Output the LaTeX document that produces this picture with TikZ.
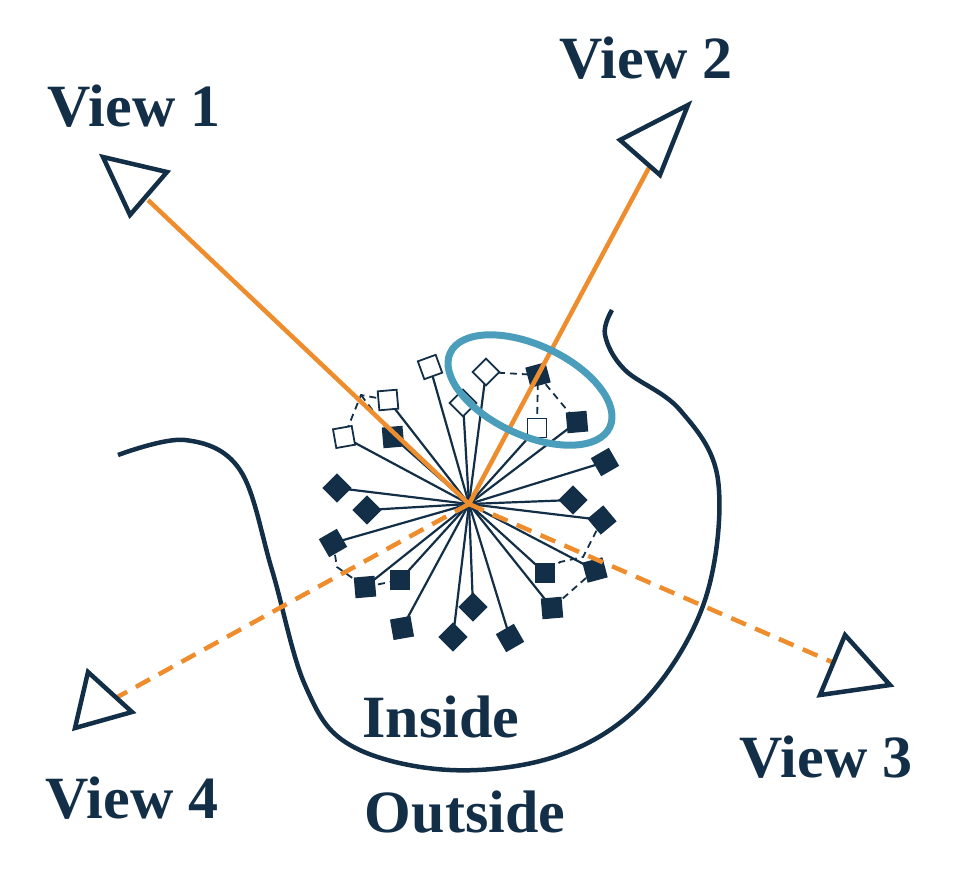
\documentclass[tikz,border=0pt]{standalone}
\usepackage{fontspec}
\setmainfont{Liberation Serif}
\definecolor{navy}{HTML}{132F47}
\definecolor{org}{HTML}{EE8D2E}
\definecolor{sky}{HTML}{4A9DBB}
\begin{document}
\begin{tikzpicture}[x=1pt,y=-1pt,
  fs/.style={draw=navy,fill=navy,minimum size=19pt,inner sep=0pt,line width=1.8pt},
  os/.style={draw=navy,fill=white,minimum size=19pt,inner sep=0pt,line width=1.8pt},
  spoke/.style={navy,line width=2.2pt},
  dl/.style={navy,line width=1.8pt,dash pattern=on 7pt off 5pt},
  tri/.style={draw=navy,line width=4.5pt,line join=miter,fill=white},
  lab/.style={font=\bfseries\fontsize{60}{60}\selectfont,text=navy}]
\useasboundingbox (0,0) rectangle (979,887);
\coordinate (c) at (469,504);
\draw[navy,line width=4.5pt] plot[smooth,tension=0.6] coordinates {(118,455) (185,440) (240,470) (272,570) (305,685) (350,745) (450,770) (560,755) (645,700) (705,600) (718,480) (680,410) (625,370) (605,335) (612,310)};
\foreach \n/\x/\y/\r/\s in {
 a/430/367/20/os, b/388/400/5/os, s3/344/437/10/os, d/463/403/45/os, e/486/372/45/os, f/537/428/0/os,
 g/538/375/15/fs, h/577/422/5/fs, i/393/437/5/fs, j/605/462/30/fs, k/573/500/45/fs, l/602/520/40/fs,
 m/337/488/45/fs, n/367/510/45/fs, o/333/543/30/fs, p/365/587/5/fs, q/400/580/0/fs, r/545/573/0/fs,
 s/595/570/15/fs, t/402/628/10/fs, u/453/637/45/fs, v/473/607/45/fs, w/510/638/30/fs, z/552/608/5/fs}{
  \draw[spoke] (c) -- (\x,\y);
}
\coordinate (c1) at (361,395);
\coordinate (c2) at (337,567);
\coordinate (c3) at (583,557);
\coordinate (c4) at (560,562);
\draw[dl] (388,400) -- (c1) -- (344,437);
\draw[dl] (c1) -- (393,437);
\draw[dl] (486,372) -- (538,375) -- (537,428);
\draw[dl] (538,375) -- (577,422);
\draw[dl] (333,543) -- (c2) -- (365,587) -- (400,580);
\draw[dl] (602,520) -- (c3) -- (c4) -- (545,573);
\draw[dl] (595,570) -- (552,608);
\foreach \n/\x/\y/\r/\s in {
 a/430/367/20/os, b/388/400/5/os, s3/344/437/10/os, d/463/403/45/os, e/486/372/45/os, f/537/428/0/os,
 g/538/375/15/fs, h/577/422/5/fs, i/393/437/5/fs, j/605/462/30/fs, k/573/500/45/fs, l/602/520/40/fs,
 m/337/488/45/fs, n/367/510/45/fs, o/333/543/30/fs, p/365/587/5/fs, q/400/580/0/fs, r/545/573/0/fs,
 s/595/570/15/fs, t/402/628/10/fs, u/453/637/45/fs, v/473/607/45/fs, w/510/638/30/fs, z/552/608/5/fs}{
  \node[\s,rotate=\r] (\n) at (\x,\y) {};
}
\coordinate (v1) at (148,200);
\coordinate (v2) at (652,162);
\coordinate (v3) at (832,662);
\coordinate (v4) at (112,700);
\draw[org,line width=4.5pt] (v1) -- (c);
\draw[org,line width=4.5pt] (v2) -- (c);
\draw[org,line width=4.5pt,dash pattern=on 16pt off 10pt] (c) -- (v3);
\draw[org,line width=4.5pt,dash pattern=on 16pt off 10pt] (c) -- (v4);
\draw[sky,line width=7pt,rotate around={-25:(530,390)}] (530,390) ellipse (88 and 45);
\draw[tri] (103,157) -- (167,172) -- (130,215) -- cycle;
\draw[tri] (620,140) -- (688,105) -- (660,175) -- cycle;
\draw[tri] (820,695) -- (845,635) -- (890,685) -- cycle;
\draw[tri] (75,728) -- (88,672) -- (132,712) -- cycle;
\node[lab] (l1) at (134,106) {View 1};
\node[lab] (l2) at (646,58) {View 2};
\node[lab] (l3) at (826,757) {View 3};
\node[lab] (l4) at (132,798) {View 4};
\node[lab] (in) at (441,717) {Inside};
\node[lab] (out) at (465,812) {Outside};
\end{tikzpicture}
\end{document}
